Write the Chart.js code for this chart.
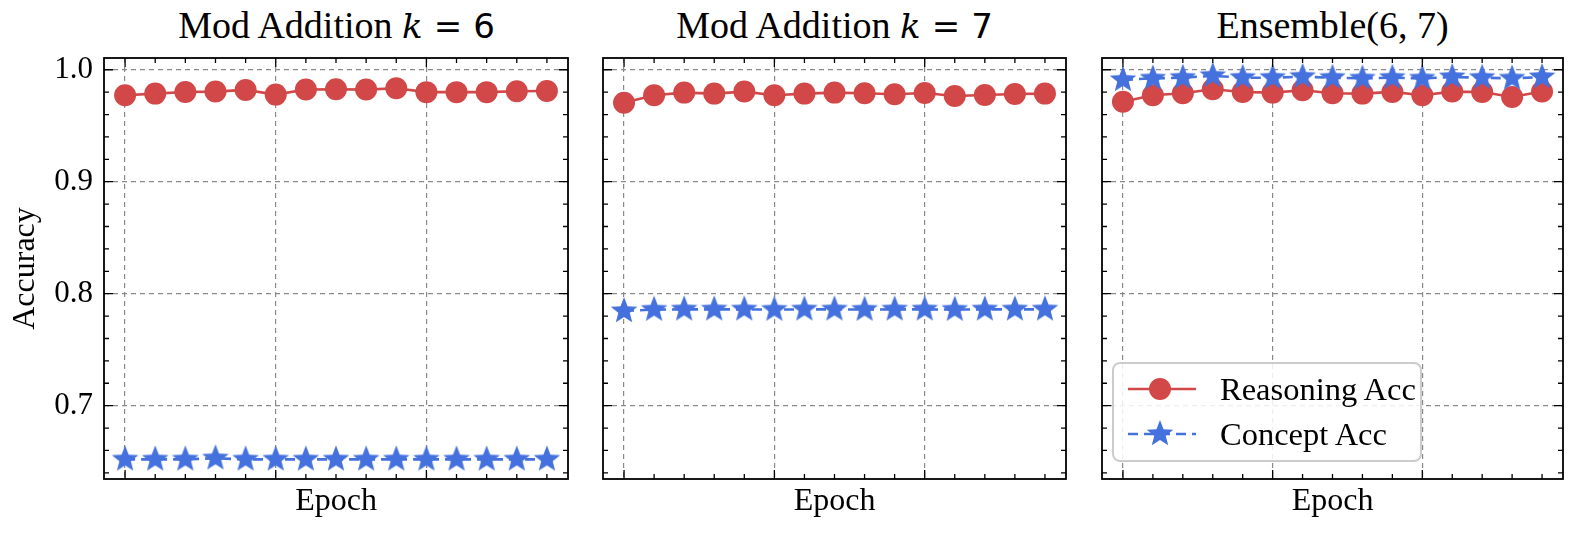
<!DOCTYPE html>
<html>
<head>
<meta charset="utf-8">
<script src="https://cdn.jsdelivr.net/npm/chart.js@4/dist/chart.umd.min.js"></script>
<style>
  html, body { margin: 0; padding: 0; background: #fff; }
  #fig { position: relative; width: 1576px; height: 533px; background: #fff; overflow: hidden; }
  .panel { position: absolute; top: 0; height: 533px; }
  .title { position: absolute; top: 3px; height: 44px; line-height: 44px; text-align: center;
           font-family: "Liberation Serif", serif; font-size: 38px; color: #000; white-space: nowrap; }
  .title .m { font-family: "DejaVu Sans", sans-serif; font-size: 34px; }
  .title .m i { font-family: "DejaVu Serif", serif; }
  .title .m .eq { margin: 0 11px; }
  #legend { position: absolute; left: 1112px; top: 362px; width: 306px; height: 96px;
            border: 2px solid #cccccc; border-radius: 8px; background: rgba(255,255,255,0.85);
            font-family: "Liberation Serif", serif; font-size: 32.5px; color: #000; }
  #legend .row { position: absolute; left: 12px; height: 40px; display: flex; align-items: center; }
  #legend .row span { margin-left: 22px; }
</style>
</head>
<body>
<div id="fig">
  <div class="title" style="left:104px;width:465px">Mod Addition <span class="m"><i>k</i><span class="eq">=</span>6</span></div>
  <div class="title" style="left:602px;width:465px">Mod Addition <span class="m"><i>k</i><span class="eq">=</span>7</span></div>
  <div class="title" style="left:1101px;width:463px">Ensemble(6, 7)</div>
  <div class="panel" style="left:0px;width:579px"><canvas id="c1"></canvas></div>
  <div class="panel" style="left:592px;width:485px"><canvas id="c2"></canvas></div>
  <div class="panel" style="left:1091px;width:483px"><canvas id="c3"></canvas></div>
  <div id="legend">
    <div class="row" style="top:5px"><canvas id="lg1" width="72" height="34"></canvas><span>Reasoning Acc</span></div>
    <div class="row" style="top:50px"><canvas id="lg2" width="72" height="34"></canvas><span>Concept Acc</span></div>
  </div>
</div>
<script>
// epochs (x), tick values
const epochs = [0, 1, 2, 3, 4, 5, 6, 7, 8, 9, 10, 11, 12, 13, 14];
const xMajor = [0, 5, 10];
const yMajor = [0.7, 0.8, 0.9, 1.0];
const yMinor = [0.64, 0.66, 0.68, 0.72, 0.74, 0.76, 0.78, 0.82, 0.84, 0.86, 0.88, 0.92, 0.94, 0.96, 0.98];

// Mod Addition k = 6
const k6Reasoning = [0.9772, 0.9787, 0.9802, 0.9805, 0.9820, 0.9778, 0.9823, 0.9826, 0.9823, 0.9835, 0.9800, 0.9800, 0.9800, 0.9808, 0.9810];
const k6Concept = [0.652, 0.652, 0.652, 0.653, 0.652, 0.652, 0.652, 0.652, 0.652, 0.652, 0.652, 0.652, 0.652, 0.652, 0.652];
// Mod Addition k = 7
const k7Reasoning = [0.9706, 0.9772, 0.9796, 0.9787, 0.9805, 0.9772, 0.9787, 0.9796, 0.9790, 0.9781, 0.9793, 0.9766, 0.9775, 0.9784, 0.9787];
const k7Concept = [0.7845, 0.7858, 0.7860, 0.7860, 0.7860, 0.7858, 0.7860, 0.7860, 0.7858, 0.7860, 0.7860, 0.7858, 0.7860, 0.7860, 0.7860];
// Ensemble(6, 7)
const ensReasoning = [0.9715, 0.9772, 0.9790, 0.9826, 0.9802, 0.9796, 0.9817, 0.9790, 0.9787, 0.9802, 0.9772, 0.9805, 0.9802, 0.9757, 0.9805];
const ensConcept = [0.9910, 0.9923, 0.9929, 0.9946, 0.9929, 0.9929, 0.9938, 0.9929, 0.9923, 0.9929, 0.9923, 0.9935, 0.9929, 0.9923, 0.9935];

const red = '#d24747';
const blue = '#4471dd';
const gridGrey = '#8a8a8a';
const serif = '"Liberation Serif", "Times New Roman", serif';

function drawStar(g, cx, cy, r, color) {
  const inner = r * 0.43;
  g.beginPath();
  for (let i = 0; i < 10; i++) {
    const rad = i % 2 === 0 ? r : inner;
    const a = -Math.PI / 2 + i * Math.PI / 5;
    const px = cx + rad * Math.cos(a), py = cy + rad * Math.sin(a);
    if (i === 0) g.moveTo(px, py); else g.lineTo(px, py);
  }
  g.closePath();
  g.fillStyle = color;
  g.fill();
}

function starImage(r, color) {
  const c = document.createElement('canvas');
  const s = Math.ceil(r * 2 + 4);
  c.width = s; c.height = s;
  drawStar(c.getContext('2d'), s / 2, s / 2, r, color);
  return c;
}
const star = starImage(14, blue);

// inward ticks on all four sides plus the frame
const framePlugin = {
  id: 'frame',
  afterDraw(chart) {
    const { ctx, chartArea: a, scales: { x, y } } = chart;
    ctx.save();
    ctx.strokeStyle = '#000';
    ctx.lineWidth = 1.3;
    ctx.beginPath();
    epochs.forEach(e => {
      const px = x.getPixelForValue(e);
      const len = xMajor.includes(e) ? 9 : 5;
      ctx.moveTo(px, a.bottom); ctx.lineTo(px, a.bottom - len);
      ctx.moveTo(px, a.top); ctx.lineTo(px, a.top + len);
    });
    yMajor.concat(yMinor).forEach(v => {
      const py = y.getPixelForValue(v);
      const len = yMajor.includes(v) ? 9 : 5;
      ctx.moveTo(a.left, py); ctx.lineTo(a.left + len, py);
      ctx.moveTo(a.right, py); ctx.lineTo(a.right - len, py);
    });
    ctx.stroke();
    ctx.lineWidth = 1.8;
    ctx.strokeRect(a.left, a.top, a.right - a.left, a.bottom - a.top);
    ctx.restore();
  }
};

function makePanel(id, reasoning, concept, first) {
  new Chart(document.getElementById(id), {
    type: 'line',
    data: {
      datasets: [
        {
          label: 'Reasoning Acc',
          data: epochs.map((e, i) => ({ x: e, y: reasoning[i] })),
          borderColor: red,
          backgroundColor: red,
          borderWidth: 2.6,
          pointStyle: 'circle',
          pointRadius: 11,
          pointBorderWidth: 0,
          pointBackgroundColor: red,
          order: 1
        },
        {
          label: 'Concept Acc',
          data: epochs.map((e, i) => ({ x: e, y: concept[i] })),
          borderColor: blue,
          backgroundColor: blue,
          borderWidth: 2.6,
          borderDash: [10, 6],
          pointStyle: star,
          order: 0
        }
      ]
    },
    options: {
      responsive: true,
      maintainAspectRatio: false,
      animation: false,
      events: [],
      clip: false,
      layout: { padding: { top: 58, right: 10, left: 0, bottom: 0 } },
      plugins: { legend: { display: false }, tooltip: { enabled: false } },
      scales: {
        x: {
          type: 'linear',
          min: -0.7,
          max: 14.7,
          afterBuildTicks: s => { s.ticks = xMajor.map(v => ({ value: v })); },
          afterFit: s => { s.height = 54; },
          ticks: { display: false },
          grid: { color: gridGrey, lineWidth: 1.2, drawTicks: false },
          border: { display: false, dash: [5, 4] },
          title: { display: true, text: 'Epoch', color: '#000', font: { family: serif, size: 32 }, padding: { top: 0, bottom: 12 } }
        },
        y: {
          min: 0.6345,
          max: 1.0105,
          afterBuildTicks: s => { s.ticks = yMajor.map(v => ({ value: v })); },
          afterFit: s => { s.width = first ? 104 : 10; },
          ticks: {
            display: first,
            color: '#000',
            padding: 11,
            font: { family: serif, size: 31 },
            callback: v => v.toFixed(1)
          },
          grid: { color: gridGrey, lineWidth: 1.2, drawTicks: false },
          border: { display: false, dash: [5, 4] },
          title: { display: first, text: 'Accuracy', color: '#000', font: { family: serif, size: 32 }, padding: { top: 6, bottom: 0 } }
        }
      }
    },
    plugins: [framePlugin]
  });
}

makePanel('c1', k6Reasoning, k6Concept, true);
makePanel('c2', k7Reasoning, k7Concept, false);
makePanel('c3', ensReasoning, ensConcept, false);

// legend samples
(function () {
  const g1 = document.getElementById('lg1').getContext('2d');
  g1.strokeStyle = red; g1.lineWidth = 2.6;
  g1.beginPath(); g1.moveTo(2, 17); g1.lineTo(70, 17); g1.stroke();
  g1.fillStyle = red; g1.beginPath(); g1.arc(34, 17, 11, 0, Math.PI * 2); g1.fill();
  const g2 = document.getElementById('lg2').getContext('2d');
  g2.strokeStyle = blue; g2.lineWidth = 2.6; g2.setLineDash([10, 6]);
  g2.beginPath(); g2.moveTo(2, 17); g2.lineTo(70, 17); g2.stroke();
  drawStar(g2, 34, 17, 14, blue);
})();
</script>
</body>
</html>
